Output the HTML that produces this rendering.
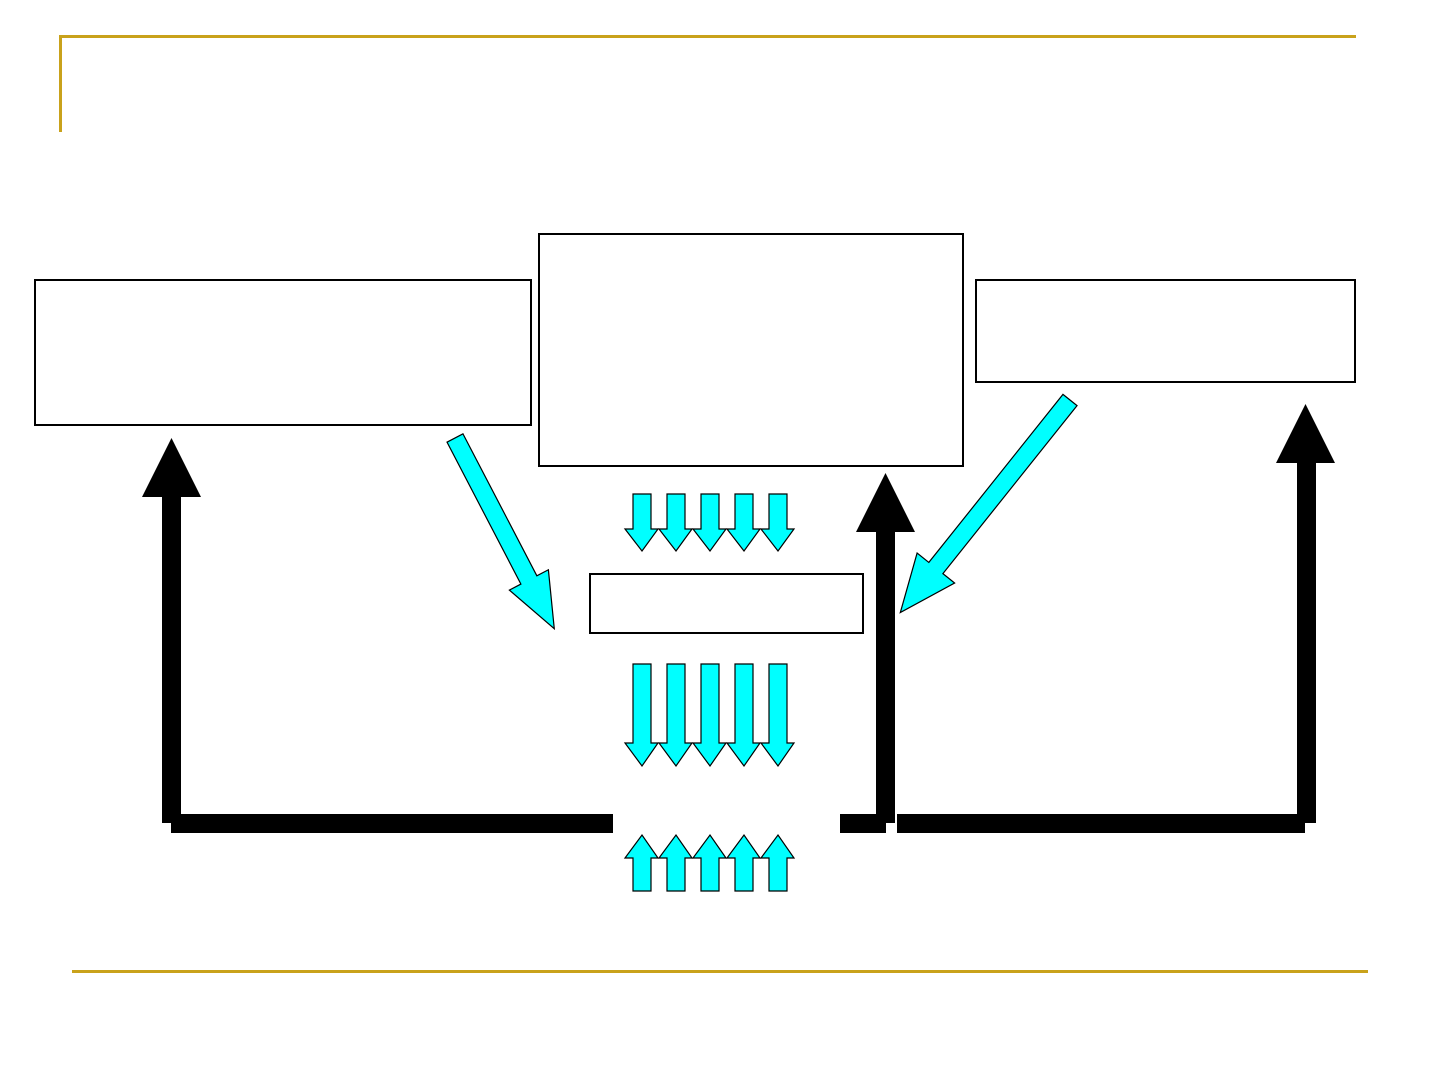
<!DOCTYPE html>
<html><head><meta charset="utf-8"><style>
html,body{margin:0;padding:0;background:#fff;}
svg{display:block;}
</style></head><body>
<svg width="1440" height="1080" viewBox="0 0 1440 1080" xmlns="http://www.w3.org/2000/svg">
<!-- gold frame lines -->
<rect x="59" y="35" width="1297" height="3" fill="#C9A21B"/>
<rect x="59" y="35" width="3" height="97" fill="#C9A21B"/>
<rect x="72" y="970" width="1296" height="3" fill="#C9A21B"/>

<!-- boxes -->
<g fill="#fff" stroke="#000" stroke-width="2">
<rect x="35" y="280" width="496" height="145"/>
<rect x="539" y="234" width="424" height="232"/>
<rect x="976" y="280" width="379" height="102"/>
<rect x="590" y="574" width="273" height="59"/>
</g>

<!-- black thick arrows -->
<g fill="#000">
<rect x="162" y="495" width="19" height="328"/>
<polygon points="142,497 201,497 171.5,438"/>
<rect x="876" y="530" width="19" height="293"/>
<polygon points="856,532 915,532 885.5,473"/>
<rect x="1297" y="461" width="19" height="362"/>
<polygon points="1276,463 1335,463 1305.5,404"/>
<rect x="171" y="814" width="442" height="19"/>
<rect x="840" y="814" width="46" height="19"/>
<rect x="897" y="814" width="408" height="19"/>
</g>

<!-- cyan arrows -->
<g fill="#00FFFF" stroke="#000" stroke-width="1.2" stroke-linejoin="miter">
<!-- top down -->
<g id="d1">
<polygon points="633,494 651,494 651,529 658,529 642,551 625,529 633,529"/>
</g>
<use href="#d1" x="34"/><use href="#d1" x="68"/><use href="#d1" x="102"/><use href="#d1" x="136"/>
<!-- middle down long -->
<g id="d2">
<polygon points="633,664 651,664 651,743 658,743 642,766 625,743 633,743"/>
</g>
<use href="#d2" x="34"/><use href="#d2" x="68"/><use href="#d2" x="102"/><use href="#d2" x="136"/>
<!-- bottom up -->
<g id="u1">
<polygon points="633,891 651,891 651,858 658,858 642,835 625,858 633,858"/>
</g>
<use href="#u1" x="34"/><use href="#u1" x="68"/><use href="#u1" x="102"/><use href="#u1" x="136"/>

<!-- diagonal left -->
<g transform="translate(455,438) rotate(62.5)">
<polygon points="0,-9 160,-9 160,-22 215,0 160,22 160,9 0,9"/>
</g>
<!-- diagonal right -->
<g transform="translate(1070,400) rotate(128.6)">
<polygon points="0,-9 215,-9 215,-24 272,0 215,24 215,9 0,9"/>
</g>
</g>
</svg>
</body></html>
